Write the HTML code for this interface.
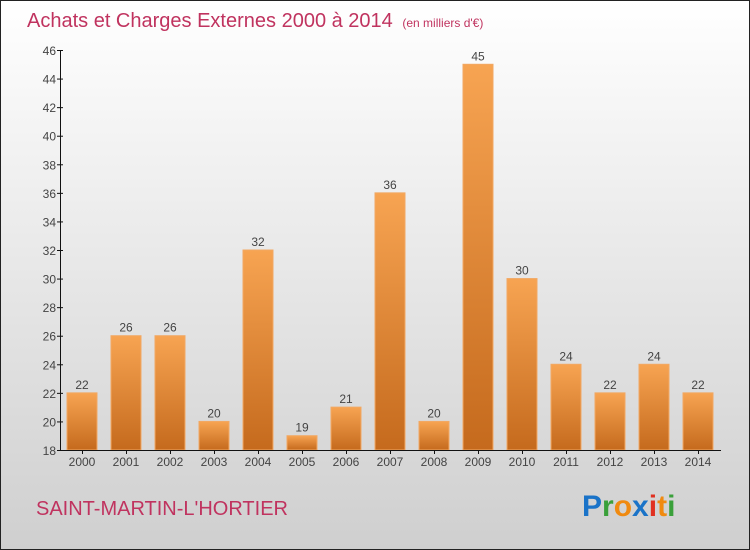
<!DOCTYPE html>
<html><head><meta charset="utf-8"><style>
body{margin:0;width:750px;height:550px;overflow:hidden}
#c{position:absolute;left:0;top:0;width:748px;height:548px;border:1px solid #222;background:linear-gradient(#ffffff,#cfcfcf)}
text{font-family:"Liberation Sans",sans-serif}
</style></head><body>
<div id="c">
<svg width="750" height="550" style="position:absolute;left:-1px;top:-1px">
<defs><linearGradient id="g" x1="0" y1="0" x2="0" y2="1"><stop offset="0" stop-color="#f7a452"/><stop offset="1" stop-color="#c56a1d"/></linearGradient></defs>
<text x="27" y="27" font-size="20" fill="#c0335f">Achats et Charges Externes 2000 à 2014 <tspan font-size="12" dx="4">(en milliers d'€)</tspan></text>
<g id="yax"></g><g id="bars"></g>
<line x1="60.5" y1="50" x2="60.5" y2="450" stroke="#111"/>
<line x1="60" y1="450.5" x2="721" y2="450.5" stroke="#111"/>
<text x="36" y="515" font-size="20" fill="#c0335f">SAINT-MARTIN-L'HORTIER</text>
<text x="582" y="516" font-size="30" font-weight="bold"><tspan fill="#1a73c8">P</tspan><tspan fill="#3aa03a">r</tspan><tspan fill="#f08a10">o</tspan><tspan fill="#1a73c8">x</tspan><tspan fill="#e03020">i</tspan><tspan fill="#f08a10">t</tspan><tspan fill="#3aa03a">i</tspan></text>
</svg></div>
<script>
const years=["2000","2001","2002","2003","2004","2005","2006","2007","2008","2009","2010","2011","2012","2013","2014"];
const values=[22,26,26,20,32,19,21,36,20,45,30,24,22,24,22];
const yTicks=[18,20,22,24,26,28,30,32,34,36,38,40,42,44,46];
const NS="http://www.w3.org/2000/svg";
const y=v=>450-(v-18)*400/28;
const x=i=>60+i*44;
function mk(t,a,p){const e=document.createElementNS(NS,t);for(const k in a)e.setAttribute(k,a[k]);p.appendChild(e);return e;}
const ya=document.getElementById('yax'),bg=document.getElementById('bars');
yTicks.forEach(v=>{
 const t=mk('text',{x:56,y:y(v)+5,'font-size':12,fill:'#444','text-anchor':'end'},ya);t.textContent=v;
 
 
 const l=mk('line',{x1:57,x2:63,y1:y(v)+.5,y2:y(v)+.5,stroke:'#111'},ya);
 
 
});
years.forEach((yr,i)=>{
 const v=values[i];
 const r=mk('rect',{x:x(i)+7,y:y(v),width:30,height:450-y(v),fill:'url(#g)',stroke:'#f2a863','stroke-width':1},bg);
 
 
 const vl=mk('text',{x:x(i)+22,y:y(v)-4,'font-size':12,fill:'#444','text-anchor':'middle'},bg);vl.textContent=v;
 
 
 const xl=mk('text',{x:x(i)+22,y:466,'font-size':12,fill:'#444','text-anchor':'middle'},bg);xl.textContent=yr;
 
 
 const tk=mk('line',{x1:x(i)+22.5,x2:x(i)+22.5,y1:450,y2:454,stroke:'#111'},bg);
 
 
});
</script>
</body></html>
